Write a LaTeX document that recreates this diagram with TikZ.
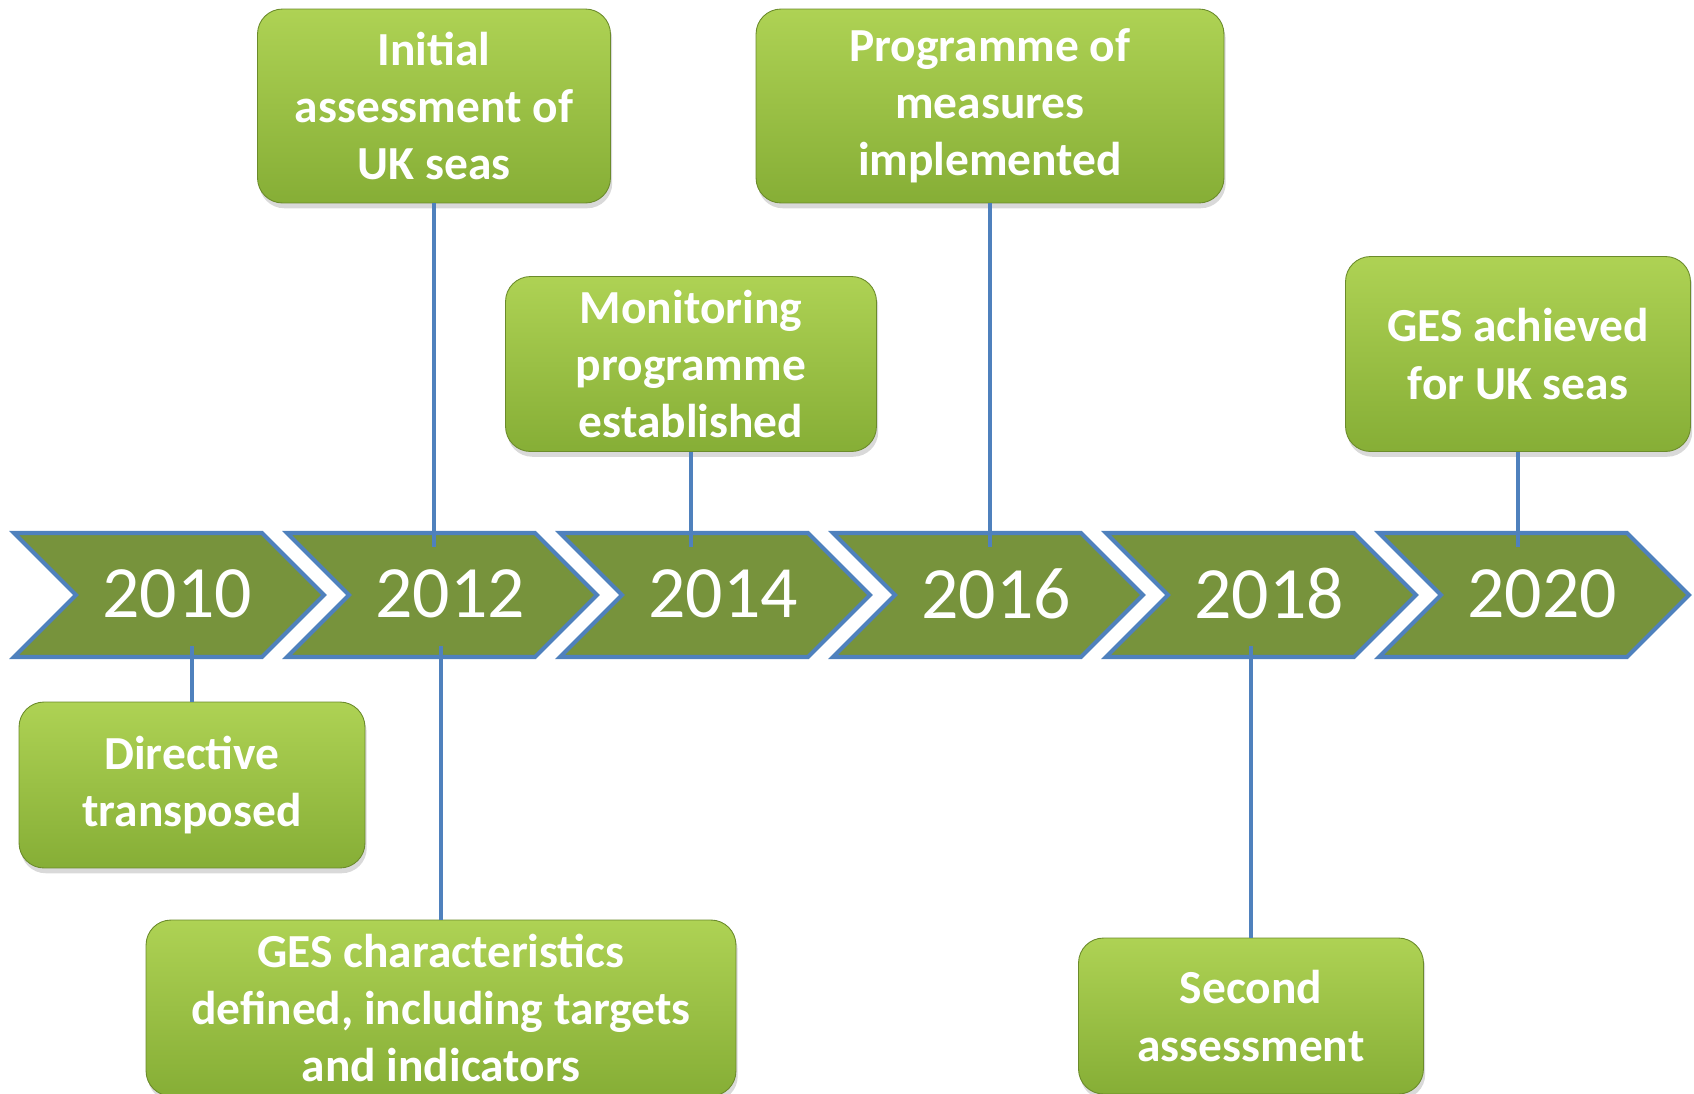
\documentclass[tikz,border=0pt]{standalone}
\usepackage{fontspec}
\setmainfont{Carlito}
\usepackage{tikz}
\usetikzlibrary{shadows}

\definecolor{chevfill}{RGB}{119,147,60}
\definecolor{chevline}{RGB}{79,129,189}
\definecolor{boxtop}{RGB}{174,210,84}
\definecolor{boxbot}{RGB}{134,174,54}

\begin{document}
\begin{tikzpicture}[x=0.02cm, y=-0.02cm,
        chev/.style = {draw=chevline, line width=2.3pt,
            fill=chevfill, line join=miter},
        year/.style = {text=white,
            font=\fontsize{42}{50}\selectfont},
        event/.style = {rounded corners=0.5cm,
            top color=boxtop, bottom color=boxbot,
            draw=boxbot!80!black, line width=0.5pt,
            drop shadow={opacity=0.3, shadow xshift=1pt, shadow yshift=-3pt},
            text=white, align=center,
            font=\bfseries\fontsize{27}{32.5}\selectfont},
        link/.style = {draw=chevline, line width=2.4pt}]

        % Page
        \useasboundingbox (0,0) rectangle (1694,1093);
        \clip (0,0) rectangle (1694,1093);

        % Time line
        \foreach \yr [count=\i from 0] in {2010,2012,2014,2016,2018,2020} {
            \pgfmathsetmacro{\L}{14+273*\i}
            \draw[chev] (\L,533) -- ++(248,0) -- ++(62,62) -- ++(-62,62)
                -- ++(-248,0) -- ++(62,-62) -- cycle;
            \node[year] (y\yr) at (\L+163,594) {\yr};
            \coordinate (t\yr) at (\L+150,547);
            \coordinate (b\yr) at (\L+150,646);
        }

        % Events above
        \node[event, minimum width=7.06cm, minimum height=3.88cm] (initial) at (434,106)
            {Initial\\assessment of\\UK seas};
        \node[event, minimum width=7.42cm, minimum height=3.5cm] (monitor) at (691,364)
            {Monitoring\\programme\\established};
        \node[event, minimum width=9.36cm, minimum height=3.88cm] (measures) at (990,106)
            {Programme of\\measures\\implemented};
        \node[event, minimum width=6.9cm, minimum height=3.9cm] (achieved) at (1518,354)
            {GES achieved\\for UK seas};

        % Events below
        \node[event, minimum width=6.92cm, minimum height=3.32cm] (directive) at (192,785)
            {Directive\\transposed};
        \node[event, minimum width=11.8cm, minimum height=3.52cm] (targets) at (441,1008)
            {GES characteristics\\defined, including targets\\and indicators};
        \node[event, minimum width=6.9cm, minimum height=3.12cm] (second) at (1251,1016)
            {Second\\assessment};

        % Links
        \draw[link] (initial.south) -- (initial.south |- t2012);
        \draw[link] (monitor.south) -- (monitor.south |- t2014);
        \draw[link] (measures.south) -- (measures.south |- t2016);
        \draw[link] (achieved.south) -- (achieved.south |- t2020);
        \draw[link] (directive.north) -- (directive.north |- b2010);
        \draw[link] (targets.north) -- (targets.north |- b2012);
        \draw[link] (second.north) -- (second.north |- b2018);
    \end{tikzpicture}
\end{document}
